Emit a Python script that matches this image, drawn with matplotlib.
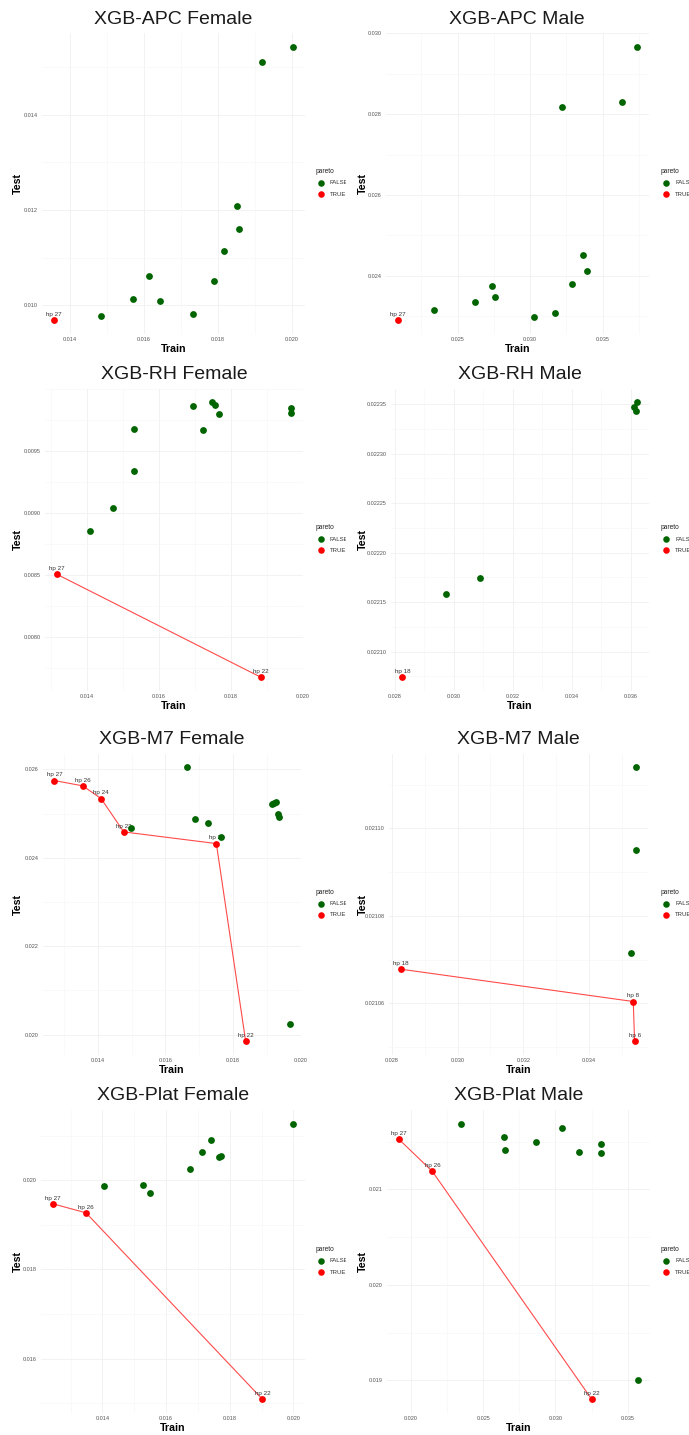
import matplotlib
matplotlib.use("Agg")
import matplotlib.pyplot as plt
from matplotlib.ticker import FixedLocator, FixedFormatter, AutoMinorLocator
from matplotlib.lines import Line2D
from matplotlib.transforms import Bbox, TransformedBbox

plt.rcParams['font.family'] = ['Liberation Sans', 'DejaVu Sans']

# ---- XGB-APC ----
apc_female_train = [0.020025, 0.019187, 0.018528, 0.018564, 0.018158, 0.016129,
                    0.017897, 0.015696, 0.016444, 0.017319, 0.014839]
apc_female_test = [0.015422, 0.015102, 0.012091, 0.011603, 0.011136, 0.010620,
                   0.010516, 0.010139, 0.010098, 0.009812, 0.009770]
apc_female_front_train = [0.013567]
apc_female_front_test = [0.009686]
apc_female_front_hp = ["hp 27"]

apc_male_train = [0.037346, 0.036357, 0.032196, 0.033667, 0.033943, 0.032863,
                  0.027368, 0.027598, 0.026218, 0.023345, 0.031713, 0.030265]
apc_male_test = [0.029669, 0.028310, 0.028186, 0.024511, 0.024115, 0.023802,
                 0.023736, 0.023473, 0.023341, 0.023160, 0.023085, 0.022970]
apc_male_front_train = [0.020885]
apc_male_front_test = [0.022896]
apc_male_front_hp = ["hp 27"]

# ---- XGB-RH ----
rh_female_train = [0.016936, 0.017465, 0.017567, 0.017679, 0.017233, 0.015319,
                   0.015310, 0.014715, 0.014084, 0.019676, 0.019686]
rh_female_test = [0.009860, 0.009890, 0.009871, 0.009798, 0.009664, 0.009675,
                  0.009337, 0.009041, 0.008851, 0.009847, 0.009801]
rh_female_front_train = [0.013155, 0.018840]
rh_female_front_test = [0.008505, 0.007675]
rh_female_front_hp = ["hp 27", "hp 22"]

rh_male_train = [0.036215, 0.036091, 0.036159, 0.030893, 0.029729]
rh_male_test = [0.022352, 0.022347, 0.022343, 0.022174, 0.022158]
rh_male_front_train = [0.028249]
rh_male_front_test = [0.022074]
rh_male_front_hp = ["hp 18"]

# ---- XGB-M7 ----
m7_female_train = [0.016627, 0.019156, 0.019215, 0.019274, 0.019333, 0.019343,
                   0.016883, 0.017267, 0.014984, 0.017631, 0.019668]
m7_female_test = [0.026047, 0.025225, 0.025240, 0.025255, 0.024999, 0.024931,
                  0.024871, 0.024780, 0.024667, 0.024464, 0.020234]
m7_female_front_train = [0.012721, 0.013557, 0.014098, 0.014768, 0.017503, 0.018369]
m7_female_front_test = [0.025745, 0.025625, 0.025338, 0.024584, 0.024320, 0.019849]
m7_female_front_hp = ["hp 27", "hp 26", "hp 24", "hp 23", "hp 25", "hp 22"]

m7_male_train = [0.035417, 0.035406, 0.035265]
m7_male_test = [0.0211140, 0.0210950, 0.0210715]
m7_male_front_train = [0.028273, 0.035336, 0.035376]
m7_male_front_test = [0.0210678, 0.0210604, 0.0210513]
m7_male_front_hp = ["hp 18", "hp 8", "hp 6"]

# ---- XGB-Plat ----
plat_female_train = [0.019978, 0.017424, 0.017120, 0.017665, 0.017727, 0.016754,
                     0.014052, 0.015288, 0.015508]
plat_female_test = [0.021264, 0.020890, 0.020621, 0.020524, 0.020531, 0.020254,
                    0.019858, 0.019896, 0.019709]
plat_female_front_train = [0.012450, 0.013487, 0.019026]
plat_female_front_test = [0.019469, 0.019267, 0.015088]
plat_female_front_hp = ["hp 27", "hp 26", "hp 22"]

plat_male_train = [0.023438, 0.030454, 0.026462, 0.028677, 0.033154, 0.026508,
                   0.031654, 0.033154, 0.035738]
plat_male_test = [0.021687, 0.021642, 0.021544, 0.021492, 0.021471, 0.021408,
                  0.021387, 0.021384, 0.019000]
plat_male_front_train = [0.019146, 0.021477, 0.032508]
plat_male_front_test = [0.021527, 0.021188, 0.018801]
plat_male_front_hp = ["hp 27", "hp 26", "hp 22"]

# tick labels per panel
apc_female_xticks = ["0.014", "0.016", "0.018", "0.020"]
apc_female_yticks = ["0.010", "0.012", "0.014"]
apc_male_xticks = ["0.025", "0.030", "0.035"]
apc_male_yticks = ["0.024", "0.026", "0.028", "0.030"]
rh_female_xticks = ["0.014", "0.016", "0.018", "0.020"]
rh_female_yticks = ["0.0080", "0.0085", "0.0090", "0.0095"]
rh_male_xticks = ["0.028", "0.030", "0.032", "0.034", "0.036"]
rh_male_yticks = ["0.02210", "0.02215", "0.02220", "0.02225", "0.02230", "0.02235"]
m7_female_xticks = ["0.014", "0.016", "0.018", "0.020"]
m7_female_yticks = ["0.020", "0.022", "0.024", "0.026"]
m7_male_xticks = ["0.028", "0.030", "0.032", "0.034"]
m7_male_yticks = ["0.02106", "0.02108", "0.02110"]
plat_female_xticks = ["0.014", "0.016", "0.018", "0.020"]
plat_female_yticks = ["0.016", "0.018", "0.020"]
plat_male_xticks = ["0.020", "0.025", "0.030", "0.035"]
plat_male_yticks = ["0.019", "0.020", "0.021"]

panels = [
    ("XGB-APC Female", apc_female_train, apc_female_test, apc_female_front_train,
     apc_female_front_test, apc_female_front_hp, apc_female_xticks, apc_female_yticks),
    ("XGB-APC Male", apc_male_train, apc_male_test, apc_male_front_train,
     apc_male_front_test, apc_male_front_hp, apc_male_xticks, apc_male_yticks),
    ("XGB-RH Female", rh_female_train, rh_female_test, rh_female_front_train,
     rh_female_front_test, rh_female_front_hp, rh_female_xticks, rh_female_yticks),
    ("XGB-RH Male", rh_male_train, rh_male_test, rh_male_front_train,
     rh_male_front_test, rh_male_front_hp, rh_male_xticks, rh_male_yticks),
    ("XGB-M7 Female", m7_female_train, m7_female_test, m7_female_front_train,
     m7_female_front_test, m7_female_front_hp, m7_female_xticks, m7_female_yticks),
    ("XGB-M7 Male", m7_male_train, m7_male_test, m7_male_front_train,
     m7_male_front_test, m7_male_front_hp, m7_male_xticks, m7_male_yticks),
    ("XGB-Plat Female", plat_female_train, plat_female_test, plat_female_front_train,
     plat_female_front_test, plat_female_front_hp, plat_female_xticks, plat_female_yticks),
    ("XGB-Plat Male", plat_male_train, plat_male_test, plat_male_front_train,
     plat_male_front_test, plat_male_front_hp, plat_male_xticks, plat_male_yticks),
]

# page layout in pixels
W, H = 689, 1435
col_x0 = [0, 345]
row_top = [33, 388.5, 753.5, 1110]
row_bottom = [334, 691, 1055, 1413]
panel_left = [42, 41, 45, 45.6, 42.7, 43.9, 41, 41.7]
panel_right = [304.6, 303.6, 303, 304, 301.4, 302.7, 304.7, 305.3]

GREEN = "#006400"
RED = "#ff0000"

fig = plt.figure(figsize=(W / 100, H / 100), dpi=100)
left_clip = TransformedBbox(Bbox([[0, 0], [346 / W, 1]]), fig.transFigure)


def fx(x):
    return x / W


def fy(y):
    return 1 - y / H


for i, (title, tr, te, ftr, fte, fhp, xt, yt) in enumerate(panels):
    row, col = divmod(i, 2)
    x0 = col_x0[col]
    left = x0 + panel_left[i]
    right = x0 + panel_right[i]
    top, bottom = row_top[row], row_bottom[row]
    pw, ph = right - left, bottom - top

    ax = fig.add_axes([fx(left), fy(bottom), pw / W, ph / H])
    for s in ax.spines.values():
        s.set_visible(False)

    # pareto front line, labels, then the points
    order = sorted(range(len(ftr)), key=lambda k: ftr[k])
    ax.plot([ftr[k] for k in order], [fte[k] for k in order],
            color="#ff4a4a", lw=0.8, zorder=2)
    for x, y, lab in zip(ftr, fte, fhp):
        ax.annotate(lab, (x, y), xytext=(0, 2.3), textcoords="offset points",
                    ha="center", va="bottom", fontsize=4.5, color="#333333",
                    zorder=3)
    ax.scatter(ftr, fte, s=24, color=RED, linewidths=0, zorder=4)
    ax.scatter(tr, te, s=24, color=GREEN, linewidths=0, zorder=5)

    allx = list(tr) + list(ftr)
    ally = list(te) + list(fte)
    dx = (max(allx) - min(allx)) * 0.05
    dy = (max(ally) - min(ally)) * 0.05
    ax.set_xlim(min(allx) - dx, max(allx) + dx)
    ax.set_ylim(min(ally) - dy, max(ally) + dy)

    ax.xaxis.set_major_locator(FixedLocator([float(v) for v in xt]))
    ax.xaxis.set_major_formatter(FixedFormatter(xt))
    ax.yaxis.set_major_locator(FixedLocator([float(v) for v in yt]))
    ax.yaxis.set_major_formatter(FixedFormatter(yt))
    ax.xaxis.set_minor_locator(AutoMinorLocator(2))
    ax.yaxis.set_minor_locator(AutoMinorLocator(2))
    ax.grid(which="major", color="#f0f0f0", lw=0.6)
    ax.grid(which="minor", color="#f7f7f7", lw=0.45)
    ax.set_axisbelow(True)
    ax.tick_params(which="both", length=0, labelsize=4, labelcolor="#555555")
    ax.tick_params(axis="x", pad=2.4)
    ax.tick_params(axis="y", pad=2.9)

    ax.set_xlabel("Train", fontsize=7.7, fontweight="bold", va="center")
    ax.xaxis.set_label_coords(0.5, -15 / ph)
    ax.set_ylabel("Test", fontsize=7.7, fontweight="bold", va="center", ha="center")
    ax.yaxis.set_label_coords((x0 + 18 - left) / pw, 0.5)

    fig.text(fx((left + right) / 2), fy(top - 14), title, fontsize=14,
             ha="center", va="center", color="#1a1a1a")

    # legend
    cy = (top + bottom) / 2
    t = fig.text(fx(x0 + 316), fy(cy - 12), "pareto", fontsize=4.8,
                 ha="left", va="center", color="#222222")
    texts = [t]
    for dyk, lab, c in [(-0.5, "FALSE", GREEN), (10.5, "TRUE", RED)]:
        fig.add_artist(Line2D([fx(x0 + 321)], [fy(cy + dyk)], marker="o",
                              markersize=4.7, markeredgewidth=0, color=c,
                              linestyle="none", transform=fig.transFigure))
        texts.append(fig.text(fx(x0 + 330), fy(cy + dyk), lab, fontsize=4.3,
                              ha="left", va="center", color="#333333"))
    if col == 0:
        for t in texts:
            t.set_clip_box(left_clip)
            t.set_clip_on(True)

fig.savefig("out.png", dpi=100)
